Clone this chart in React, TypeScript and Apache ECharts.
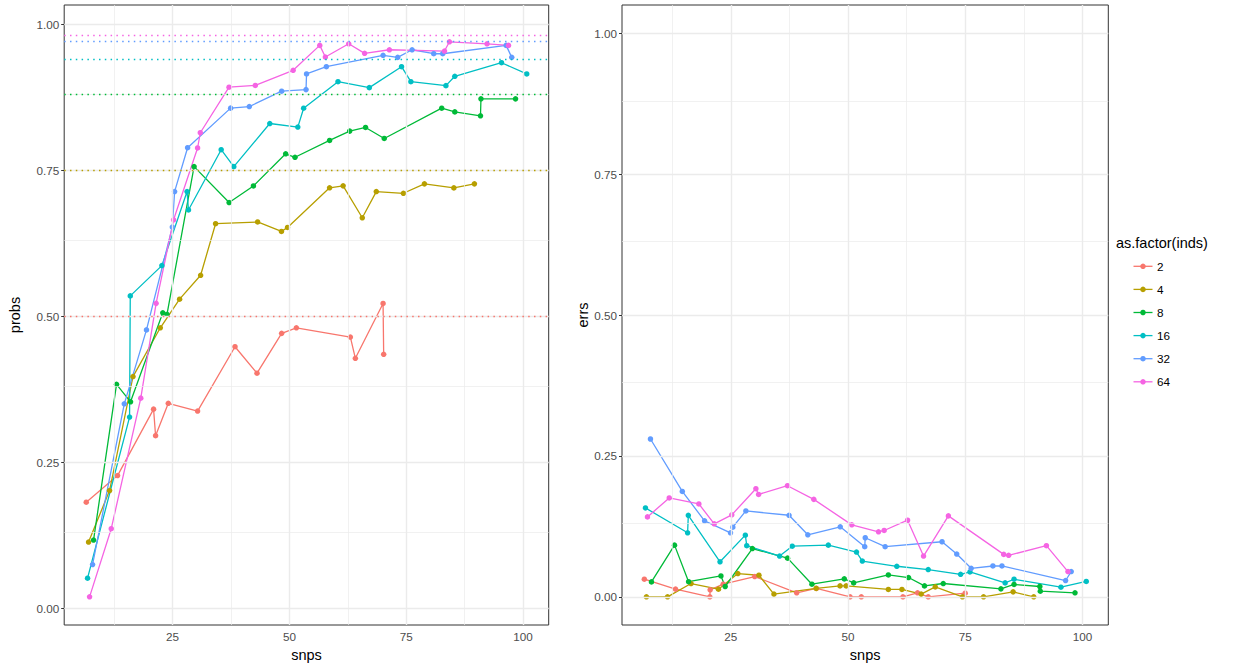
import React, { useEffect, useRef } from "react";
import * as echarts from "echarts";

// ---- data ----
const groups = ["2", "4", "8", "16", "32", "64"];
const colors = ["#F8766D", "#B79F00", "#00BA38", "#00BFC4", "#619CFF", "#F564E3"];
const expectedProbs = [0.5, 0.75, 0.875, 0.9375, 0.96875, 0.984375];

const xTicks = [25, 50, 75, 100];
const xMinor = [12.5, 37.5, 62.5, 87.5];
const yTicks = [0, 0.25, 0.5, 0.75, 1];
const yMinor = [0.125, 0.375, 0.625, 0.875];

// inds = 2
const snps2 = [6.52, 13.22, 20.93, 21.36, 24.08, 30.35, 38.36, 43.07, 48.34, 51.49, 63.05, 64.12, 70.05, 70.18];
const probs2 = [0.1818, 0.2273, 0.341, 0.2955, 0.351, 0.3377, 0.4478, 0.4025, 0.4707, 0.4802, 0.4644, 0.428, 0.5218, 0.4349];
const errSnps2 = [6.56, 13.22, 20.53, 20.6, 23.38, 30.1, 39.05, 43.25, 50.43, 52.83, 61.71, 64.82, 67.1, 74.98];
const errs2 = [0.0312, 0.0136, 0.0, 0.0124, 0.0224, 0.036, 0.0071, 0.0148, 0.0, 0.0, 0.0, 0.0071, 0.0, 0.0065];

// inds = 4
const snps4 = [7.01, 11.51, 16.52, 22.37, 26.5, 31.0, 34.2, 43.2, 48.3, 49.6, 58.6, 61.5, 65.6, 68.6, 74.4, 78.9, 85.2, 89.6];
const probs4 = [0.1136, 0.2017, 0.3967, 0.4802, 0.5292, 0.5701, 0.6583, 0.6613, 0.6451, 0.652, 0.7197, 0.7231, 0.6685, 0.7133, 0.7104, 0.7265, 0.7196, 0.7265];
const errs4 = [0, 0, 0.0236, 0.0136, 0.0413, 0.0383, 0.0048, 0.015, 0.0194, 0.0194, 0.0131, 0.0131, 0.0048, 0.0176, 0, 0, 0.0088, 0];

// inds = 8
const snps8 = [8.08, 13.0, 16.0, 22.9, 23.8, 29.6, 37.1, 42.3, 49.2, 51.2, 58.6, 62.9, 66.3, 70.3, 82.6, 85.4, 90.9, 91.0, 98.4];
const probs8 = [0.117, 0.3834, 0.3535, 0.5058, 0.5031, 0.756, 0.6946, 0.723, 0.778, 0.772, 0.8008, 0.8168, 0.823, 0.8042, 0.856, 0.8497, 0.843, 0.872, 0.872];
const errs8 = [0.0265, 0.0917, 0.0268, 0.037, 0.0183, 0.0856, 0.0686, 0.0224, 0.0318, 0.0247, 0.0388, 0.0342, 0.0194, 0.0236, 0.0141, 0.0219, 0.0183, 0.0101, 0.0071];

// inds = 16
const snps16 = [6.8, 15.79, 15.94, 22.7, 28.1, 28.4, 35.4, 38.1, 45.8, 51.8, 53.05, 60.4, 67.1, 74.0, 76.0, 83.5, 85.4, 95.4, 100.8];
const probs16 = [0.0517, 0.3274, 0.5348, 0.5866, 0.7133, 0.6818, 0.785, 0.756, 0.8298, 0.8237, 0.856, 0.9014, 0.8912, 0.927, 0.9014, 0.8946, 0.9106, 0.9338, 0.9146];
const errs16 = [0.1577, 0.1136, 0.1445, 0.0621, 0.1094, 0.0907, 0.0723, 0.0898, 0.0917, 0.0794, 0.0635, 0.0542, 0.0483, 0.04, 0.0441, 0.0247, 0.0312, 0.0171, 0.0272];

// inds = 32
const snps32 = [7.87, 14.66, 19.41, 24.94, 25.43, 28.21, 37.42, 41.42, 48.34, 53.56, 53.67, 57.91, 70.05, 73.18, 76.26, 80.89, 82.82, 96.39, 97.59];
const probs32 = [0.075, 0.3501, 0.4766, 0.6525, 0.7133, 0.7884, 0.8561, 0.8588, 0.8851, 0.8878, 0.9146, 0.927, 0.9465, 0.943, 0.956, 0.9492, 0.9492, 0.9635, 0.943];
const errs32 = [0.28, 0.187, 0.1348, 0.1136, 0.1235, 0.1524, 0.1447, 0.1101, 0.1242, 0.0889, 0.1048, 0.0889, 0.0977, 0.0759, 0.0506, 0.0547, 0.0547, 0.0289, 0.0448];

// inds = 64
const snps64 = [7.23, 11.87, 18.19, 21.47, 25.21, 30.35, 30.93, 37.08, 42.7, 50.8, 56.5, 57.7, 62.7, 66.1, 71.4, 83.2, 84.25, 92.3, 96.9];
const probs64 = [0.0198, 0.1364, 0.3598, 0.522, 0.665, 0.7879, 0.814, 0.8919, 0.895, 0.9209, 0.9635, 0.9436, 0.9662, 0.9499, 0.956, 0.9538, 0.9696, 0.9662, 0.9635];
const errs64 = [0.1418, 0.1754, 0.1648, 0.1295, 0.1454, 0.1918, 0.1817, 0.1971, 0.1729, 0.1277, 0.1154, 0.1177, 0.1359, 0.0723, 0.1436, 0.0753, 0.0736, 0.0907, 0.0448];

const leftX = [snps2, snps4, snps8, snps16, snps32, snps64];
const leftY = [probs2, probs4, probs8, probs16, probs32, probs64];
const rightX = [errSnps2, snps4, snps8, snps16, snps32, snps64];
const rightY = [errs2, errs4, errs8, errs16, errs32, errs64];

const FONT = "Liberation Sans, Arial, Helvetica, sans-serif";
const TICK_COLOR = "#4D4D4D";
const BORDER = "#333333";
const GRID_COLOR = "#EBEBEB";

function zip(xs: number[], ys: number[]) {
  return xs.map((x, i) => [x, ys[i]]);
}

function gridLines(idx: number) {
  const data: any[] = [];
  xTicks.forEach((v) => data.push({ xAxis: v, lineStyle: { width: 1.4, color: GRID_COLOR, type: "solid" } }));
  xMinor.forEach((v) => data.push({ xAxis: v, lineStyle: { width: 0.7, color: GRID_COLOR, type: "solid" } }));
  yTicks.forEach((v) => data.push({ yAxis: v, lineStyle: { width: 1.4, color: GRID_COLOR, type: "solid" } }));
  yMinor.forEach((v) => data.push({ yAxis: v, lineStyle: { width: 0.7, color: GRID_COLOR, type: "solid" } }));
  return {
    type: "line",
    xAxisIndex: idx,
    yAxisIndex: idx,
    data: [],
    silent: true,
    z: 1,
    markLine: {
      silent: true,
      symbol: ["none", "none"],
      label: { show: false },
      animation: false,
      data,
    },
  };
}

function xAxisFor(idx: number) {
  return {
    type: "value",
    gridIndex: idx,
    min: 1.8,
    max: 105.5,
    name: "snps",
    nameLocation: "middle",
    nameGap: 22,
    nameTextStyle: { fontFamily: FONT, fontSize: 14.5, color: "#000" },
    axisLine: { show: false },
    splitLine: { show: false },
    axisTick: { show: true, length: 3, lineStyle: { color: BORDER, width: 1 }, customValues: xTicks },
    axisLabel: {
      customValues: xTicks,
      fontFamily: FONT,
      fontSize: 11.7,
      color: TICK_COLOR,
      margin: 5,
      formatter: (v: number) => String(v),
    },
  };
}

function yAxisFor(idx: number, name: string, min: number, max: number, gap: number) {
  return {
    type: "value",
    gridIndex: idx,
    min,
    max,
    name,
    nameLocation: "middle",
    nameGap: gap,
    nameTextStyle: { fontFamily: FONT, fontSize: 14.5, color: "#000" },
    axisLine: { show: false },
    splitLine: { show: false },
    axisTick: { show: true, length: 3, lineStyle: { color: BORDER, width: 1 }, customValues: yTicks },
    axisLabel: {
      customValues: yTicks,
      fontFamily: FONT,
      fontSize: 11.7,
      color: TICK_COLOR,
      margin: 5,
      formatter: (v: number) => v.toFixed(2),
    },
  };
}

export default function App() {
  const ref = useRef<HTMLDivElement>(null);

  useEffect(() => {
    if (!ref.current) return;
    const chart = echarts.init(ref.current, undefined, { renderer: "svg" });

    const series: any[] = [gridLines(0), gridLines(1)];

    // expected-probability dotted lines on the left panel
    series.push({
      type: "line",
      xAxisIndex: 0,
      yAxisIndex: 0,
      data: [],
      silent: true,
      z: 2,
      markLine: {
        silent: true,
        symbol: ["none", "none"],
        label: { show: false },
        animation: false,
        data: expectedProbs.map((v, i) => ({
          yAxis: v,
          lineStyle: { color: colors[i], width: 1.4, type: [1.5, 4.3] },
        })),
      },
    });

    groups.forEach((g, i) => {
      const common = {
        type: "line",
        name: g,
        symbol: "circle",
        symbolSize: 5.5,
        showSymbol: true,
        z: 3,
        itemStyle: { color: colors[i] },
        lineStyle: { color: colors[i], width: 1.3 },
        emphasis: { disabled: true },
      };
      series.push({ ...common, xAxisIndex: 0, yAxisIndex: 0, data: zip(leftX[i], leftY[i]) });
      series.push({ ...common, xAxisIndex: 1, yAxisIndex: 1, data: zip(rightX[i], rightY[i]) });
    });

    // legend drawn as graphic (ggplot-style key: short line with a small dot)
    const legendItems: any[] = [
      {
        type: "text",
        x: 1116,
        y: 243,
        style: { text: "as.factor(inds)", font: `14.5px ${FONT}`, fill: "#000", verticalAlign: "middle" },
      },
    ];
    groups.forEach((g, i) => {
      const cy = 266.3 + i * 23.1;
      legendItems.push({
        type: "line",
        shape: { x1: 1133.5, y1: cy, x2: 1152.5, y2: cy },
        style: { stroke: colors[i], lineWidth: 1.3 },
      });
      legendItems.push({
        type: "circle",
        shape: { cx: 1143, cy, r: 2.75 },
        style: { fill: colors[i] },
      });
      legendItems.push({
        type: "text",
        x: 1157,
        y: cy,
        style: { text: g, font: `11.7px ${FONT}`, fill: "#000", verticalAlign: "middle" },
      });
    });

    chart.setOption({
      animation: false,
      backgroundColor: "#ffffff",
      textStyle: { fontFamily: FONT },
      grid: [
        { left: 64.2, top: 5, width: 484.5, height: 621, show: true, borderColor: BORDER, borderWidth: 1, backgroundColor: "transparent", containLabel: false },
        { left: 622, top: 5, width: 486.3, height: 621, show: true, borderColor: BORDER, borderWidth: 1, backgroundColor: "transparent", containLabel: false },
      ],
      xAxis: [xAxisFor(0), xAxisFor(1)],
      yAxis: [
        yAxisFor(0, "probs", -0.0284, 1.0326, 42),
        yAxisFor(1, "errs", -0.05, 1.05, 25),
      ],
      graphic: legendItems,
      series,
    });

    return () => chart.dispose();
  }, []);

  return (
    <div
      ref={ref}
      style={{ position: "fixed", left: 0, top: 0, width: 1233, height: 667, background: "#fff" }}
    />
  );
}
